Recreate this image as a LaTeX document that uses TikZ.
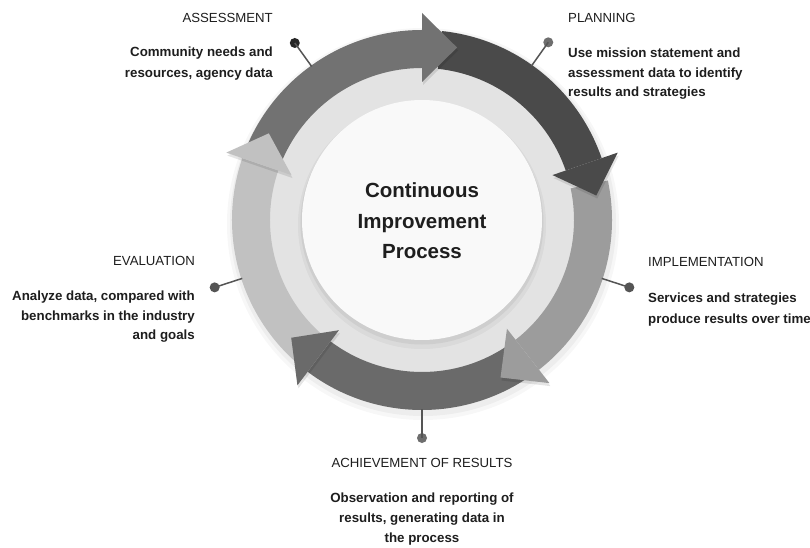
\documentclass[tikz,border=0pt]{standalone}
\usepackage{fontspec}
\setmainfont{Liberation Sans}
\definecolor{cAss}{HTML}{727272}
\definecolor{cPla}{HTML}{4A4A4A}
\definecolor{cImp}{HTML}{9C9C9C}
\definecolor{cAch}{HTML}{6A6A6A}
\definecolor{cEva}{HTML}{C1C1C1}
\definecolor{cRing}{HTML}{E3E3E3}
\definecolor{cDisk}{HTML}{F9F9F9}
\definecolor{cText}{HTML}{1E1E1E}
\definecolor{cPin}{HTML}{555555}
\newcommand\cipbody[3]{\fill[#1] (#2:190) arc[start angle=#2,end angle=#3,radius=190] -- (#3:152) arc[start angle=#3,end angle=#2,radius=152] -- cycle;}
\newcommand\ciphead[3]{%
  \fill[black,opacity=0.10] ([shift={(1,-3)}]#2:207) -- ([shift={(1,-3)}]#3:176) -- ([shift={(1,-3)}]#2:138) -- cycle;
  \fill[#1] (#2:207) -- (#3:176) -- (#2:138) -- cycle;}
\tikzset{
  pinline/.style={draw=cPin,line width=1.5pt},
  pindot/.style={circle,fill=#1,inner sep=0pt,minimum size=10pt},
  headtxt/.style={inner sep=0pt,text=cText,font=\fontsize{13.2}{16}\selectfont},
  desctxt/.style={inner sep=0pt,text=cText,font=\bfseries\fontsize{13.3}{16}\selectfont},
  titletxt/.style={inner sep=0pt,text=cText,font=\bfseries\fontsize{20.5}{24}\selectfont,anchor=base}
}
\begin{document}
\begin{tikzpicture}[x=1pt,y=1pt]
\useasboundingbox (-422,-328) rectangle (388,220);
\fill[white] (-422,-328) rectangle (388,220);
% soft outer shadow of the ring
\fill[black,opacity=0.03] (1,-4) circle (196);
\fill[black,opacity=0.04] (1,-3) circle (193);
% pale ring and disk
\fill[cRing] (0,0) circle (160);
\fill[black,opacity=0.04] (0,-5) circle (124);
\fill[black,opacity=0.05] (0,-3) circle (121.5);
\fill[cDisk] (0,0) circle (120);
% arrow bodies
\cipbody{cAss}{157}{90}
\cipbody{cPla}{84}{19}
\cipbody{cImp}{12}{-52}
\cipbody{cAch}{-57}{-127}
\cipbody{cEva}{228}{161}
% arrow heads
\ciphead{cAss}{90}{78.5}
\ciphead{cPla}{19}{8}
\ciphead{cImp}{-52}{-63.5}
\ciphead{cAch}{-127}{-138}
\ciphead{cEva}{161}{150.5}
% pins
\coordinate (eA) at (125.7:189);
\coordinate (eP) at (54.6:189);
\coordinate (eI) at (-18:189);
\coordinate (eR) at (-90:189);
\coordinate (eE) at (198:189);
\node[pindot=black!85] (dA) at (125.7:218) {};
\node[pindot=cPin!85] (dP) at (54.6:218) {};
\node[pindot=cPin] (dI) at (-18:218) {};
\node[pindot=cPin!85] (dR) at (-90:218) {};
\node[pindot=cPin] (dE) at (198:218) {};
\draw[pinline] (eA) -- (dA.center);
\draw[pinline] (eP) -- (dP.center);
\draw[pinline] (eI) -- (dI.center);
\draw[pinline] (eR) -- (dR.center);
\draw[pinline] (eE) -- (dE.center);
% title
\node[titletxt] (ti1) at (0,22) {Continuous};
\node[titletxt] (ti2) at (0,-9) {Improvement};
\node[titletxt] (ti3) at (0,-39) {Process};
% assessment
\node[headtxt,anchor=base east] (hA) at (-149,197.8) {ASSESSMENT};
\node[desctxt,anchor=base east] (tA1) at (-149,163) {Community needs and};
\node[desctxt,anchor=base east] (tA2) at (-149,142.5) {resources, agency data};
% planning
\node[headtxt,anchor=base west] (hP) at (146,197.8) {PLANNING};
\node[desctxt,anchor=base west] (tP1) at (146,162.5) {Use mission statement and};
\node[desctxt,anchor=base west] (tP2) at (146,142.5) {assessment data to identify};
\node[desctxt,anchor=base west] (tP3) at (146,123) {results and strategies};
% implementation
\node[headtxt,anchor=base west] (hI) at (226,-46.7) {IMPLEMENTATION};
\node[desctxt,anchor=base west] (tI1) at (226,-83) {Services and strategies};
\node[desctxt,anchor=base west] (tI2) at (226,-103) {produce results over time};
% evaluation
\node[headtxt,anchor=base east] (hE) at (-227,-45.7) {EVALUATION};
\node[desctxt,anchor=base east] (tE1) at (-227,-80.8) {Analyze data, compared with};
\node[desctxt,anchor=base east] (tE2) at (-227,-100.3) {benchmarks in the industry};
\node[desctxt,anchor=base east] (tE3) at (-227,-119.8) {and goals};
% achievement
\node[headtxt,anchor=base] (hR) at (0,-247.7) {ACHIEVEMENT OF RESULTS};
\node[desctxt,anchor=base] (tR1) at (0,-282.3) {Observation and reporting of};
\node[desctxt,anchor=base] (tR2) at (0,-302.3) {results, generating data in};
\node[desctxt,anchor=base] (tR3) at (0,-322.3) {the process};
\end{tikzpicture}
\end{document}
